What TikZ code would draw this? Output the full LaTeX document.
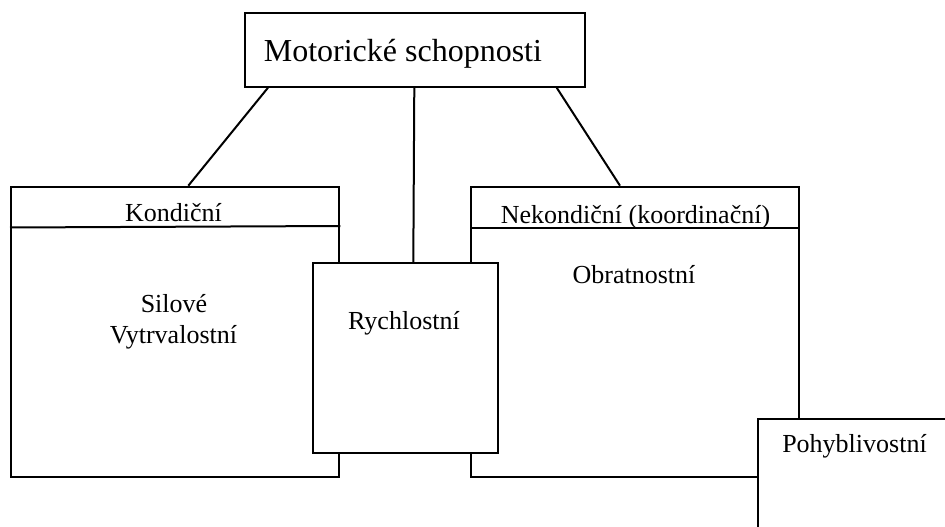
\documentclass[tikz,border=0pt]{standalone}
\usepackage{fontspec}
\setmainfont{Liberation Serif}
\usetikzlibrary{positioning,calc}

\begin{document}
\begin{tikzpicture}[x=1pt, y=-1pt,
    box/.style={draw, line width=2pt, fill=white, inner sep=0pt, anchor=north west},
    lbl/.style={font=\fontsize{26}{31}\selectfont, anchor=base, inner sep=0pt},
    link/.style={line width=2pt}]

    \clip (0,0) rectangle (945,527);

    % Top box
    \node[box, minimum width=340pt, minimum height=74pt] (motor) at (244.3,11.7) {};
    \node[lbl, font=\fontsize{32}{38}\selectfont] (motortxt) at (402.9,61.7) {Motorické schopnosti};

    % Kondicni (left)
    \node[box, minimum width=328.3pt, minimum height=290pt] (kond) at (10,185.7) {};
    \draw[link] ([yshift=-41.8pt]kond.north west) -- ([yshift=-40.3pt]kond.north east);
    \node[lbl] (kondtxt) at (173.4,221.7) {Kondiční};
    \node[lbl] (silove) at (174,312.7) {Silové};
    \node[lbl] (vytrv) at (173.5,343.3) {Vytrvalostní};

    % Nekondicni (right)
    \node[box, minimum width=328.3pt, minimum height=290pt] (nekond) at (470,185.7) {};
    \draw[link] ([yshift=-42.6pt]nekond.north west) -- ([yshift=-42.6pt]nekond.north east);
    \node[lbl] (nekondtxt) at (635.5,223) {Nekondiční (koordinační)};
    \node[lbl] (obrat) at (634,283.3) {Obratnostní};

    % Rychlostni (middle, over both)
    \node[box, minimum width=184.5pt, minimum height=189.4pt] (rychl) at (312,262.3) {};
    \node[lbl] (rychltxt) at (404,329) {Rychlostní};

    % Pohyblivostni (corner)
    \node[box, minimum width=220pt, minimum height=150pt] (pohyb) at (757,417.7) {};
    \node[lbl] (pohybtxt) at (854.5,452.7) {Pohyblivostní};

    % Links
    \draw[link] ([xshift=23.7pt]motor.south west) -- ([xshift=178.3pt]kond.north west);
    \draw[link] ([xshift=170pt]motor.south west) -- ([xshift=101.3pt]rychl.north west);
    \draw[link] ([xshift=312.4pt]motor.south west) -- ([xshift=150pt]nekond.north west);

\end{tikzpicture}
\end{document}
